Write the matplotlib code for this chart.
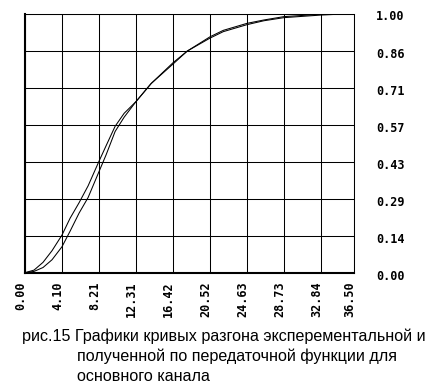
import matplotlib
matplotlib.use("Agg")
import matplotlib.pyplot as plt
import matplotlib.transforms as mtransforms

# data
t = [0, 1, 2, 3, 4.1, 5, 6, 7, 8.21, 9, 10, 11, 12.31, 14, 16.42, 18,
     20.52, 22, 24.63, 26.5, 28.73, 32.84, 36.5]
experimental = [0, 0.01, 0.04, 0.085, 0.145, 0.21, 0.27, 0.335, 0.43, 0.49,
                0.565, 0.615, 0.66, 0.73, 0.81, 0.855, 0.91, 0.935, 0.962,
                0.975, 0.988, 0.997, 1.0]
model = [0, 0.005, 0.02, 0.05, 0.10, 0.16, 0.23, 0.29, 0.39, 0.455,
         0.545, 0.60, 0.66, 0.73, 0.805, 0.855, 0.905, 0.93, 0.957,
         0.972, 0.984, 0.994, 1.0]
x_ticks = [0.0, 4.104, 8.208, 12.312, 16.416, 20.52, 24.624, 28.728, 32.832, 36.5]
x_labels = ["0.00", "4.10", "8.21", "12.31", "16.42", "20.52", "24.63",
            "28.73", "32.84", "36.50"]
y_ticks = [0, 1/7, 2/7, 3/7, 4/7, 5/7, 6/7, 1.0]
y_labels = ["0.00", "0.14", "0.29", "0.43", "0.57", "0.71", "0.86", "1.00"]
caption = ["рис.15 Графики кривых разгона эксперементальной и",
           "полученной по передаточной функции для",
           "основного канала"]

W, H = 442, 386
fig = plt.figure(figsize=(W / 100, H / 100), dpi=100)
left, right, top, bottom = 25, 354, 13.5, 272.7
ax = fig.add_axes([left / W, (H - bottom) / H, (right - left) / W, (bottom - top) / H])

ax.plot(t, experimental, color="black", lw=0.75)
ax.plot(t, model, color="black", lw=0.75)

ax.set_xlim(0, 36.5)
ax.set_ylim(0, 1)
ax.set_xticks(x_ticks)
ax.set_xticklabels(x_labels, rotation=90, va="top", ha="center",
                   family="DejaVu Sans Mono", fontweight="bold", fontsize=8.5)
ax.set_yticks(y_ticks)
ax.set_yticklabels(y_labels, family="DejaVu Sans Mono", fontweight="bold", fontsize=8.5)
ax.yaxis.tick_right()
ax.tick_params(axis="y", length=0, pad=16)
ax.tick_params(axis="x", length=0, pad=6)
ax.grid(True, color="black", lw=0.75)
ax.set_axisbelow(True)
for s in ["top", "right"]:
    ax.spines[s].set_linewidth(0.75)
for s in ["left", "bottom"]:
    ax.spines[s].set_linewidth(1.5)

offset = mtransforms.ScaledTranslation(-4.5 / 100, 0, fig.dpi_scale_trans)
for lab in ax.get_xticklabels():
    lab.set_transform(lab.get_transform() + offset)
offy = mtransforms.ScaledTranslation(0, -2 / 100, fig.dpi_scale_trans)
for lab in ax.get_yticklabels():
    lab.set_transform(lab.get_transform() + offy)

fs = 11.6
fig.text(22 / W, 1 - 341 / H, caption[0], family="Liberation Sans", fontsize=fs,
         ha="left", va="baseline")
fig.text(77 / W, 1 - 361 / H, caption[1], family="Liberation Sans", fontsize=fs,
         ha="left", va="baseline")
fig.text(77 / W, 1 - 381 / H, caption[2], family="Liberation Sans", fontsize=fs,
         ha="left", va="baseline")

fig.savefig("out.png", dpi=100)
